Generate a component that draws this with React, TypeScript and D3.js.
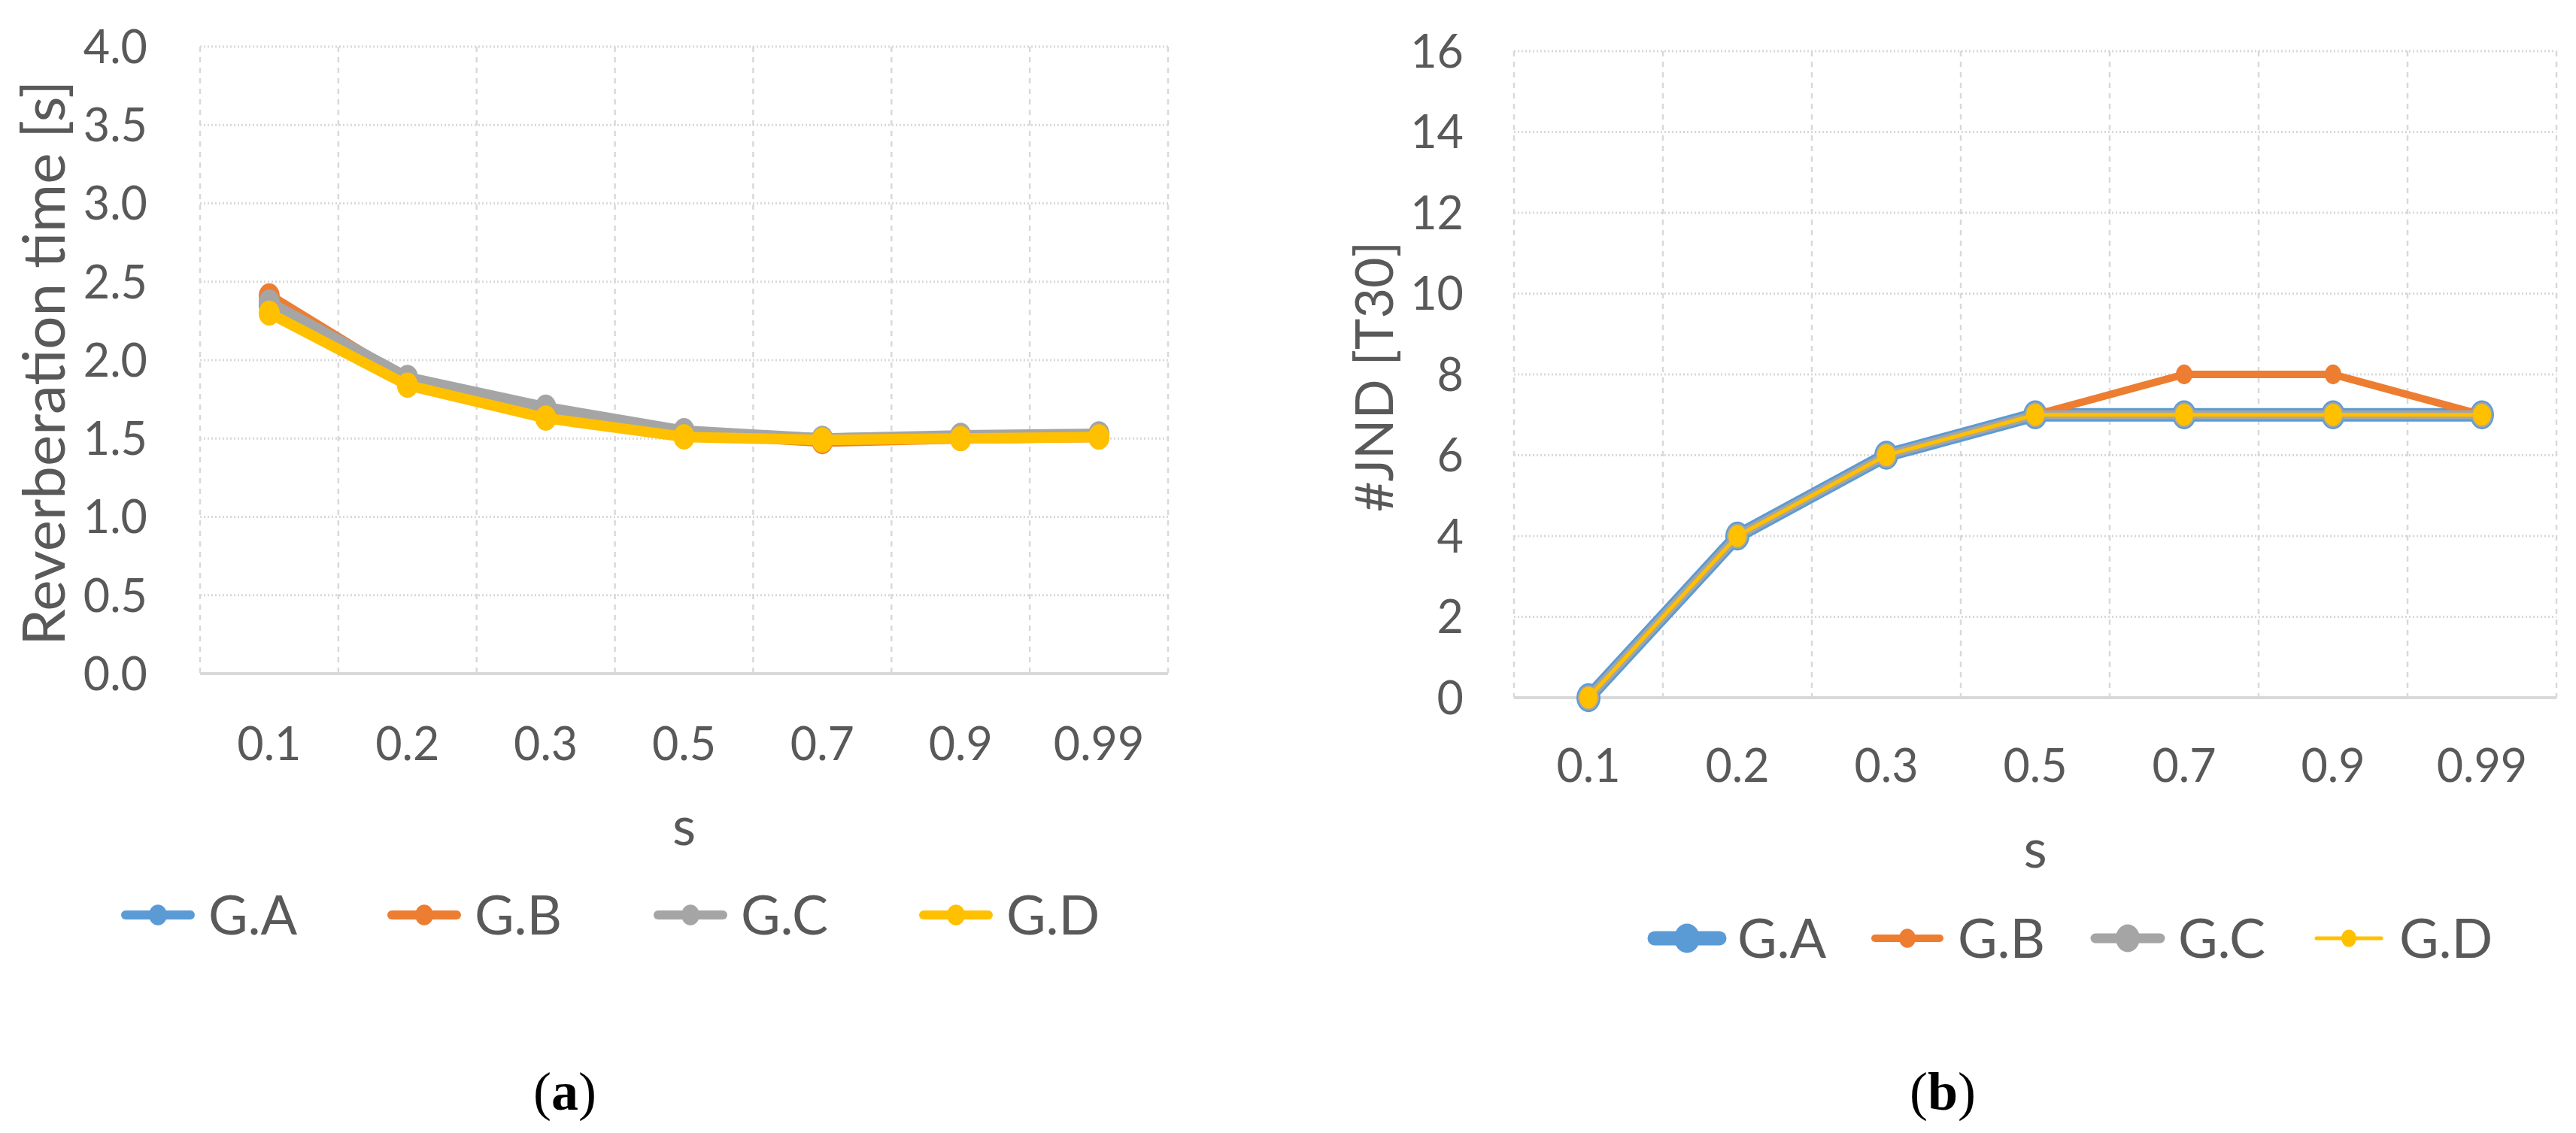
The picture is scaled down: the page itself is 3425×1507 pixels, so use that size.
import { useEffect, useRef } from 'react';
import * as d3 from 'd3';

const categories = ['0.1', '0.2', '0.3', '0.5', '0.7', '0.9', '0.99'];
const seriesNames = ['G.A', 'G.B', 'G.C', 'G.D'];
const seriesColors = ['#5B9BD5', '#ED7D31', '#A5A5A5', '#FFC000'];

// (a) reverberation time [s]
const rtA = [2.35, 1.87, 1.68, 1.54, 1.5, 1.51, 1.52];
const rtB = [2.41, 1.87, 1.67, 1.53, 1.48, 1.5, 1.51];
const rtC = [2.37, 1.89, 1.7, 1.55, 1.5, 1.52, 1.53];
const rtD = [2.3, 1.84, 1.63, 1.51, 1.49, 1.5, 1.51];
const rtTicks = [0, 0.5, 1, 1.5, 2, 2.5, 3, 3.5, 4];

// (b) number of JND for T30
const jndA = [0, 4, 6, 7, 7, 7, 7];
const jndB = [0, 4, 6, 7, 8, 8, 7];
const jndC = [0, 4, 6, 7, 7, 7, 7];
const jndD = [0, 4, 6, 7, 7, 7, 7];
const jndTicks = [0, 2, 4, 6, 8, 10, 12, 14, 16];

const FONT = 'Lato, "Open Sans", sans-serif';
const TEXT = '#595959';
const GRID = '#d9d9d9';

interface SeriesStyle { values: number[]; width: number; r: number; legendWidth: number; legendR: number }

interface Panel {
  left: number; right: number; top: number; bottom: number;
  ticks: number[]; fmt: (v: number) => string;
  yLabelX: number; xLabelY: number;
  yTitle: string; yTitleX: number; yTitleY: number; yTitleSize: number; xTitleY: number;
  series: SeriesStyle[];
  legendY: number; legendText: number[];
  caption: string; captionX: number;
}

function drawPanel(svg: d3.Selection<SVGSVGElement, unknown, null, undefined>, p: Panel) {
  const x = d3.scaleBand().domain(categories).range([p.left, p.right]);
  const y = d3.scaleLinear().domain([p.ticks[0], p.ticks[p.ticks.length - 1]]).range([p.bottom, p.top]);
  const cx = (i: number) => (x(categories[i]) || 0) + x.bandwidth() / 2;
  const g = svg.append('g');

  // vertical gridlines at category boundaries
  const bounds = categories.map(c => x(c) || 0).concat([p.right]);
  g.selectAll('line.vg').data(bounds).join('line')
    .attr('x1', d => d).attr('x2', d => d)
    .attr('y1', p.top).attr('y2', p.bottom)
    .attr('stroke', GRID).attr('stroke-width', 2.5).attr('stroke-dasharray', '7,7');

  // horizontal gridlines
  g.selectAll('line.hg').data(p.ticks.filter(t => t !== 0)).join('line')
    .attr('x1', p.left).attr('x2', p.right)
    .attr('y1', d => y(d)).attr('y2', d => y(d))
    .attr('stroke', GRID).attr('stroke-width', 3).attr('stroke-dasharray', '2,3');

  // category axis line
  g.append('line')
    .attr('x1', p.left).attr('x2', p.right)
    .attr('y1', y(0)).attr('y2', y(0))
    .attr('stroke', GRID).attr('stroke-width', 4);

  // y tick labels
  g.selectAll('text.yt').data(p.ticks).join('text')
    .attr('x', p.yLabelX).attr('y', d => y(d)).attr('dy', '0.36em')
    .attr('text-anchor', 'end').attr('font-family', FONT).attr('font-size', 61).attr('fill', TEXT)
    .text(d => p.fmt(d));

  // x tick labels
  g.selectAll('text.xt').data(categories).join('text')
    .attr('x', (_, i) => cx(i)).attr('y', p.xLabelY).attr('dy', '0.36em')
    .attr('text-anchor', 'middle').attr('font-family', FONT).attr('font-size', 61).attr('fill', TEXT)
    .text(d => d);

  // axis titles
  g.append('text')
    .attr('transform', `translate(${p.yTitleX},${p.yTitleY}) rotate(-90)`)
    .attr('dy', '0.36em').attr('text-anchor', 'middle')
    .attr('font-family', FONT).attr('font-size', p.yTitleSize).attr('fill', TEXT)
    .text(p.yTitle);
  g.append('text')
    .attr('x', (p.left + p.right) / 2).attr('y', p.xTitleY).attr('dy', '0.36em')
    .attr('text-anchor', 'middle').attr('font-family', FONT).attr('font-size', 72).attr('fill', TEXT)
    .text('s');

  // series
  const line = d3.line<number>().x((_, i) => cx(i)).y(d => y(d));
  p.series.forEach((s, k) => {
    g.append('path').attr('d', line(s.values) || '')
      .attr('fill', 'none').attr('stroke', seriesColors[k]).attr('stroke-width', s.width)
      .attr('stroke-linejoin', 'round').attr('stroke-linecap', 'round');
    g.selectAll(`ellipse.m${k}`).data(s.values).join('ellipse')
      .attr('cx', (_, i) => cx(i)).attr('cy', d => y(d))
      .attr('rx', s.r).attr('ry', s.r * 1.2)
      .attr('fill', seriesColors[k]);
  });

  // legend
  p.series.forEach((s, k) => {
    const tx = p.legendText[k];
    g.append('line')
      .attr('x1', tx - 110).attr('x2', tx - 24)
      .attr('y1', p.legendY).attr('y2', p.legendY)
      .attr('stroke', seriesColors[k]).attr('stroke-width', s.legendWidth).attr('stroke-linecap', 'round');
    g.append('ellipse')
      .attr('cx', tx - 67).attr('cy', p.legendY)
      .attr('rx', s.legendR).attr('ry', s.legendR * 1.15)
      .attr('fill', seriesColors[k]);
    g.append('text')
      .attr('x', tx).attr('y', p.legendY).attr('dy', '0.36em')
      .attr('font-family', FONT).attr('font-size', 72).attr('fill', TEXT)
      .text(seriesNames[k]);
  });

  // caption
  const cap = g.append('text')
    .attr('x', p.captionX).attr('y', 1452).attr('dy', '0.34em')
    .attr('text-anchor', 'middle').attr('font-family', '"Liberation Serif", "DejaVu Serif", serif')
    .attr('font-size', 72).attr('fill', '#000');
  cap.append('tspan').text('(');
  cap.append('tspan').attr('font-weight', 'bold').text(p.caption);
  cap.append('tspan').text(')');
}

export default function App() {
  const svgRef = useRef<SVGSVGElement>(null);

  useEffect(() => {
    if (!svgRef.current) return;
    const svg = d3.select(svgRef.current);
    svg.selectAll('*').remove();

    drawPanel(svg, {
      left: 266, right: 1553, top: 62, bottom: 896,
      ticks: rtTicks, fmt: d3.format('.1f'),
      yLabelX: 196, xLabelY: 989,
      yTitle: 'Reverberation time [s]', yTitleX: 58, yTitleY: 483, yTitleSize: 78, xTitleY: 1098,
      series: [rtA, rtB, rtC, rtD].map(values => ({ values, width: 14, r: 14, legendWidth: 12, legendR: 12 })),
      legendY: 1217, legendText: [277, 631, 985, 1338],
      caption: 'a', captionX: 751,
    });

    const jndStyles = [
      { width: 18, r: 16, legendWidth: 19, legendR: 17 },
      { width: 10, r: 11, legendWidth: 10, legendR: 11 },
      { width: 12, r: 14, legendWidth: 13, legendR: 16 },
      { width: 5, r: 12, legendWidth: 5, legendR: 10 },
    ];
    drawPanel(svg, {
      left: 2013, right: 3399, top: 68, bottom: 928,
      ticks: jndTicks, fmt: d3.format('d'),
      yLabelX: 1946, xLabelY: 1018,
      yTitle: '#JND [T30]', yTitleX: 1827, yTitleY: 501, yTitleSize: 70, xTitleY: 1128,
      series: [jndA, jndB, jndC, jndD].map((values, k) => ({ values, ...jndStyles[k] })),
      legendY: 1248, legendText: [2310, 2603, 2896, 3190],
      caption: 'b', captionX: 2583,
    });
  }, []);

  return (
    <svg
      ref={svgRef}
      width={3425}
      height={1507}
      style={{ position: 'fixed', top: 0, left: 0, background: '#fff' }}
    />
  );
}
